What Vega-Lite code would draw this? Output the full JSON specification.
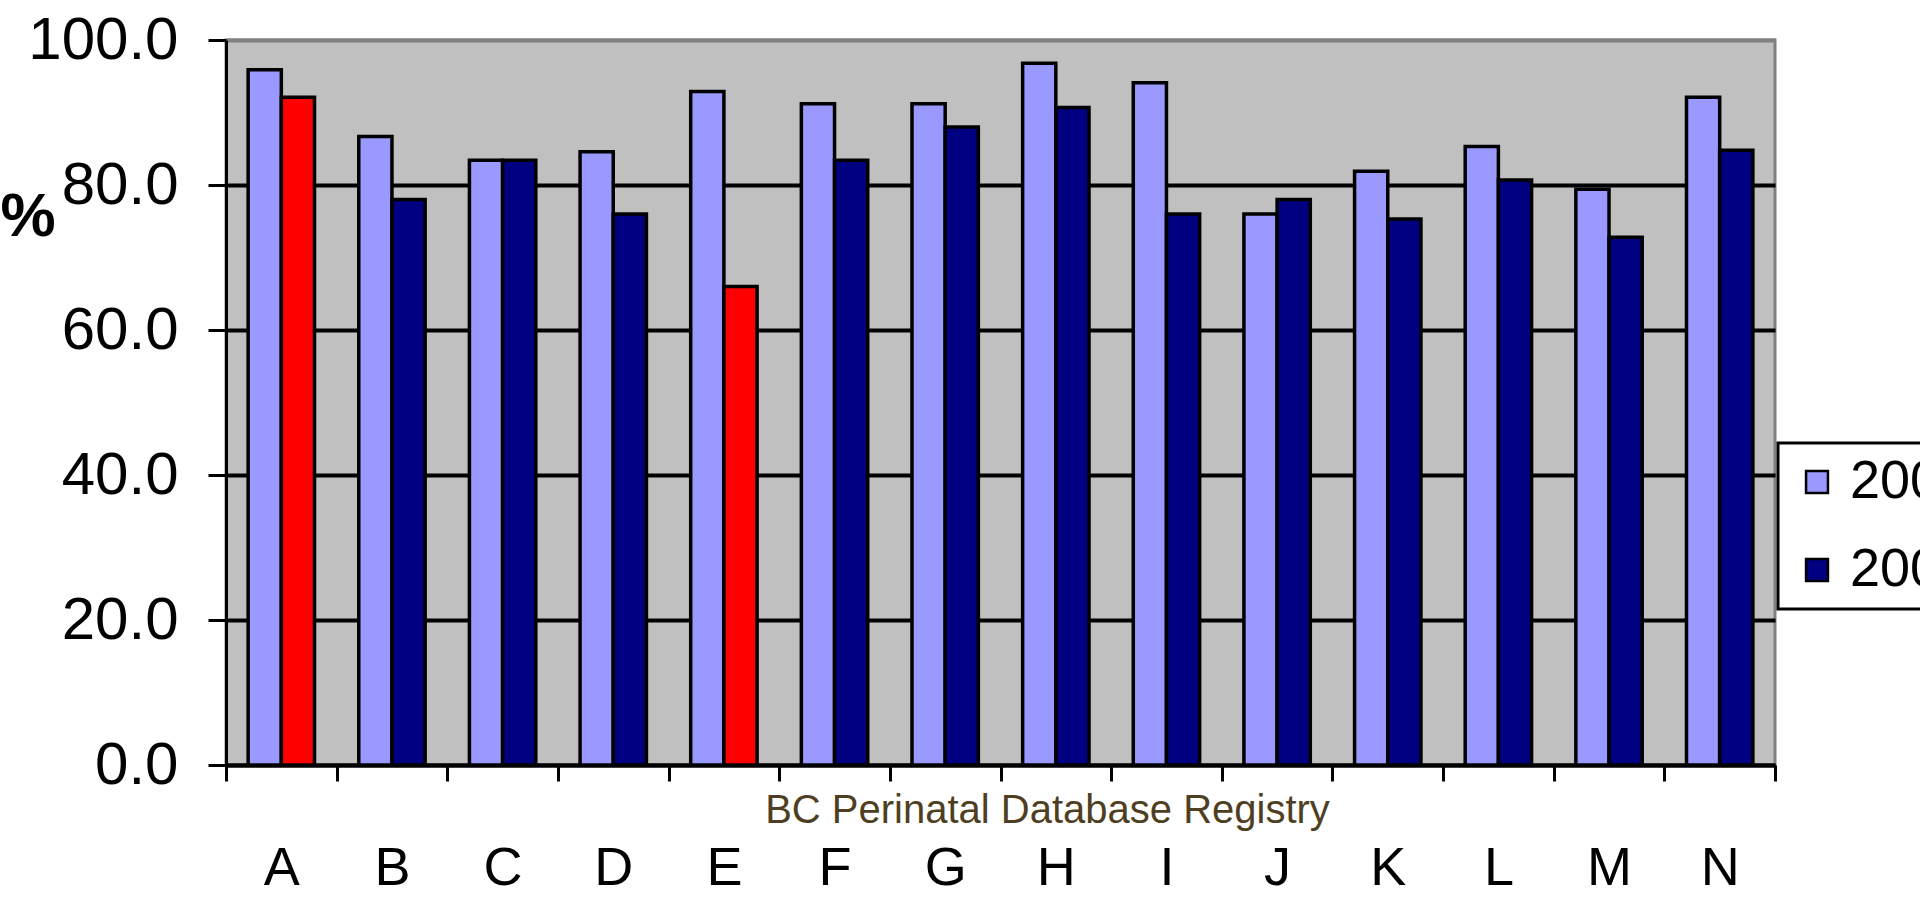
{
  "$schema": "https://vega.github.io/schema/vega-lite/v6.json",
  "width": 1549,
  "height": 725,
  "autosize": {"type": "none"},
  "padding": {"left": 226, "top": 40, "right": 145, "bottom": 134},
  "background": "white",
  "config": {
    "font": "Liberation Sans, Arial, sans-serif",
    "view": {"fill": "#c0c0c0", "stroke": "#808080", "strokeWidth": 3}
  },
  "data": {
    "values": [
      {"region": "A", "year": "2000", "pct": 95.9},
      {"region": "A", "year": "2005", "pct": 92.1},
      {"region": "B", "year": "2000", "pct": 86.7},
      {"region": "B", "year": "2005", "pct": 78.0},
      {"region": "C", "year": "2000", "pct": 83.4},
      {"region": "C", "year": "2005", "pct": 83.4},
      {"region": "D", "year": "2000", "pct": 84.6},
      {"region": "D", "year": "2005", "pct": 76.0},
      {"region": "E", "year": "2000", "pct": 92.9},
      {"region": "E", "year": "2005", "pct": 66.0},
      {"region": "F", "year": "2000", "pct": 91.2},
      {"region": "F", "year": "2005", "pct": 83.4},
      {"region": "G", "year": "2000", "pct": 91.2},
      {"region": "G", "year": "2005", "pct": 88.0},
      {"region": "H", "year": "2000", "pct": 96.8},
      {"region": "H", "year": "2005", "pct": 90.7},
      {"region": "I", "year": "2000", "pct": 94.1},
      {"region": "I", "year": "2005", "pct": 76.0},
      {"region": "J", "year": "2000", "pct": 76.0},
      {"region": "J", "year": "2005", "pct": 78.0},
      {"region": "K", "year": "2000", "pct": 81.9},
      {"region": "K", "year": "2005", "pct": 75.3},
      {"region": "L", "year": "2000", "pct": 85.3},
      {"region": "L", "year": "2005", "pct": 80.7},
      {"region": "M", "year": "2000", "pct": 79.4},
      {"region": "M", "year": "2005", "pct": 72.8},
      {"region": "N", "year": "2000", "pct": 92.1},
      {"region": "N", "year": "2005", "pct": 84.8}
    ]
  },
  "mark": {"type": "bar", "stroke": "black", "strokeWidth": 3.5, "opacity": 1},
  "encoding": {
    "x": {
      "field": "region",
      "type": "nominal",
      "sort": null,
      "scale": {"paddingInner": 0, "paddingOuter": 0},
      "axis": {
        "title": "BC Perinatal Database Registry",
        "titleColor": "#4f3f22",
        "titleFontSize": 40,
        "titleFontWeight": "normal",
        "titleX": 821,
        "titleY": 57,
        "titleAlign": "center",
        "titleBaseline": "alphabetic",
        "labelAngle": 0,
        "labelFontSize": 54,
        "labelColor": "black",
        "labelBaseline": "alphabetic",
        "labelPadding": 103,
        "tickBand": "extent",
        "tickSize": 16,
        "tickWidth": 3,
        "tickColor": "black",
        "domainColor": "black",
        "domainWidth": 4,
        "grid": false
      }
    },
    "xOffset": {"field": "year", "type": "nominal", "scale": {"paddingInner": 0, "paddingOuter": 0.667}},
    "y": {
      "field": "pct",
      "type": "quantitative",
      "scale": {"domain": [0, 100], "nice": false},
      "axis": {
        "title": "%",
        "titleAngle": 0,
        "titleFontSize": 62,
        "titleFontWeight": "bold",
        "titleColor": "black",
        "titleX": -226,
        "titleY": 176,
        "titleAlign": "left",
        "titleBaseline": "middle",
        "values": [0, 20, 40, 60, 80, 100],
        "format": ".1f",
        "labelFontSize": 60,
        "labelColor": "black",
        "labelPadding": 30,
        "tickSize": 18,
        "tickWidth": 3,
        "tickColor": "black",
        "domainColor": "black",
        "domainWidth": 3,
        "gridColor": {"condition": {"test": "datum.value === 100", "value": "#808080"}, "value": "black"},
        "gridWidth": 4,
        "gridOpacity": 1
      }
    },
    "color": {
      "condition": {
        "test": "datum.year === '2005' && (datum.region === 'A' || datum.region === 'E')",
        "value": "#ff0000"
      },
      "field": "year",
      "type": "nominal",
      "scale": {"domain": ["2000", "2005"], "range": ["#9999ff", "#000080"]},
      "legend": {
        "title": null,
        "orient": "none",
        "legendX": 1552,
        "legendY": 403,
        "fillColor": "white",
        "strokeColor": "black",
        "padding": 12,
        "symbolType": "square",
        "symbolSize": 480,
        "symbolStrokeColor": "black",
        "symbolStrokeWidth": 2.5,
        "symbolOpacity": 1,
        "labelFontSize": 54,
        "labelColor": "black",
        "labelOffset": 6,
        "rowPadding": 34,
        "encode": {"legend": {"update": {"strokeWidth": {"value": 3}}}}
      }
    }
  }
}
